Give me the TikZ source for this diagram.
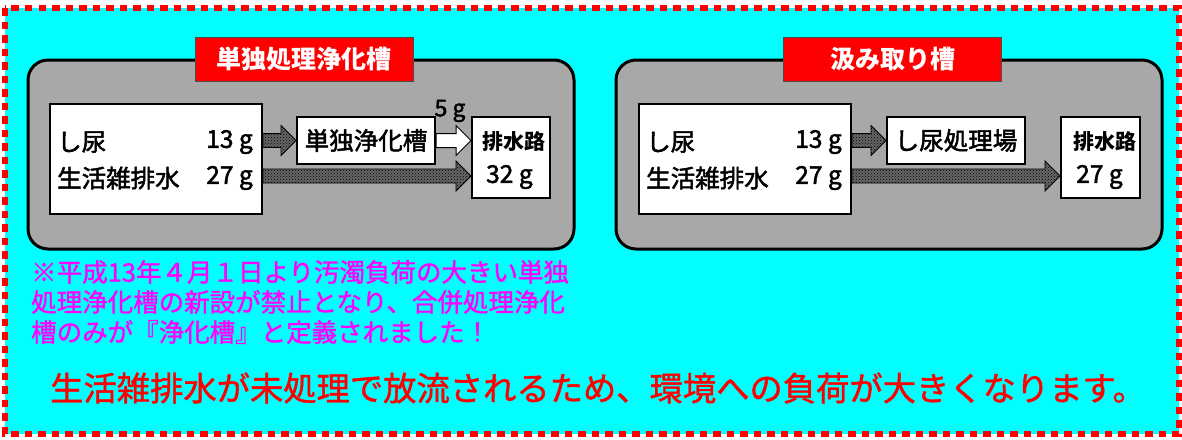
\documentclass[tikz,border=0pt]{standalone}
\usepackage{fontspec}
\setmainfont{Noto Sans CJK JP}
\newfontfamily\medfont{Noto Sans CJK JP}[FakeBold=1.2]
\newfontfamily\heavyfont{Noto Sans CJK JP}[FakeBold=2]
\usetikzlibrary{patterns,calc}
\definecolor{panelgray}{HTML}{A8A8A8}
\definecolor{cyanbg}{HTML}{00FFFF}
\definecolor{mag}{HTML}{FF00FF}
\newcommand\blockarrow[3]{%
  \draw[#1] let \p1=(#2), \p2=(#3) in
    (\x1,\y1+7pt) -- (\x2-15pt,\y1+7pt) -- (\x2-15pt,\y1+15pt) -- (\x2,\y1)
    -- (\x2-15pt,\y1-15pt) -- (\x2-15pt,\y1-7pt) -- (\x1,\y1-7pt) -- cycle;}
\begin{document}
\begin{tikzpicture}[x=1pt,y=-1pt,
  panel/.style={draw=black, line width=3pt, fill=panelgray, rounded corners=20pt,
    minimum width=546pt, minimum height=189pt, inner sep=0pt},
  titlebox/.style={draw=black!70, line width=1pt, fill=red, text=white,
    font=\bfseries\fontsize{25}{25}\selectfont, minimum width=218pt, minimum height=44pt, inner sep=0pt},
  wbox/.style={draw=black, line width=2pt, fill=white, inner sep=0pt},
  txt/.style={font=\heavyfont\fontsize{24.5}{25}\selectfont, inner sep=0pt},
  boldtxt/.style={font=\bfseries\fontsize{21}{21}\selectfont, inner sep=0pt},
  hatch/.style={draw=black, line width=0.8pt, fill=black!60,
    postaction={pattern=crosshatch dots, pattern color=black}},
  whitearrow/.style={draw=black, line width=1pt, fill=white},
  note/.style={font=\medfont\fontsize{25.5}{26}\selectfont, text=mag, inner sep=0pt, anchor=west},
  warn/.style={font=\medfont\fontsize{33.3}{34}\selectfont, text=red, inner sep=0pt},
  border/.style={draw=red, line width=6pt, dash pattern=on 7.5pt off 6pt}
]
\useasboundingbox (0,0) rectangle (1182,439);
\fill[white] (0,0) rectangle (1182,439);
\fill[cyanbg] (5,8) rectangle (1179,434);
\draw[border] (5,8) rectangle (1179,434);

% left panel
\node[panel] (pl) at (301,154.5) {};
\node[titlebox] (tl) at (304,59.5) {単独処理浄化槽};
\node[wbox, minimum width=212pt, minimum height=110pt] (wl) at (156,159) {};
\node[wbox, minimum width=138pt, minimum height=47pt, txt] (tk) at (366,140.5) {単独浄化槽};
\node[wbox, minimum width=78pt, minimum height=81pt] (dl) at (511,157.5) {};
\node[txt, anchor=west] (l1) at (57,142) {し尿};
\node[txt, anchor=east] (l1g) at (253,142) {13 g};
\node[txt, anchor=west] (l2) at (57,178) {生活雑排水};
\node[txt, anchor=east] (l2g) at (253,178) {27 g};
\node[boldtxt] (dlt) at (514,142) {排水路};
\node[txt, anchor=west] (dlg) at (486,177) {32 g};
\node[font=\heavyfont\fontsize{23}{23}\selectfont, inner sep=0pt] (fg) at (450,111) {5 g};
\coordinate (rowB) at (0,176);
\blockarrow{hatch}{wl.east |- tk}{tk.west}
\blockarrow{whitearrow}{tk.east}{dl.west |- tk}
\blockarrow{hatch}{wl.east |- rowB}{dl.west |- rowB}

% right panel
\node[panel] (pr) at (889,154.5) {};
\node[titlebox] (tr) at (892.5,59.5) {汲み取り槽};
\node[wbox, minimum width=212pt, minimum height=110pt] (wr) at (745,159) {};
\node[wbox, minimum width=138pt, minimum height=47pt, txt] (pp) at (956,140.5) {し尿処理場};
\node[wbox, minimum width=79pt, minimum height=81pt] (dr) at (1100.5,157.5) {};
\node[txt, anchor=west] (r1) at (646,142) {し尿};
\node[txt, anchor=east] (r1g) at (842,142) {13 g};
\node[txt, anchor=west] (r2) at (646,178) {生活雑排水};
\node[txt, anchor=east] (r2g) at (842,178) {27 g};
\node[boldtxt] (drt) at (1104.5,142) {排水路};
\node[txt, anchor=west] (drg) at (1076,177) {27 g};
\blockarrow{hatch}{wr.east |- pp}{pp.west}
\blockarrow{hatch}{wr.east |- rowB}{dr.west |- rowB}

% notes
\node[note] (n1) at (31,272) {※平成13年４月１日より汚濁負荷の大きい単独};
\node[note] (n2) at (31,302) {処理浄化槽の新設が禁止となり、合併処理浄化};
\node[note] (n3) at (31,332) {槽のみが『浄化槽』と定義されました！};
\node[warn, anchor=west] (w) at (50,388) {生活雑排水が未処理で放流されるため、環境への負荷が大きくなります。};
\end{tikzpicture}
\end{document}
